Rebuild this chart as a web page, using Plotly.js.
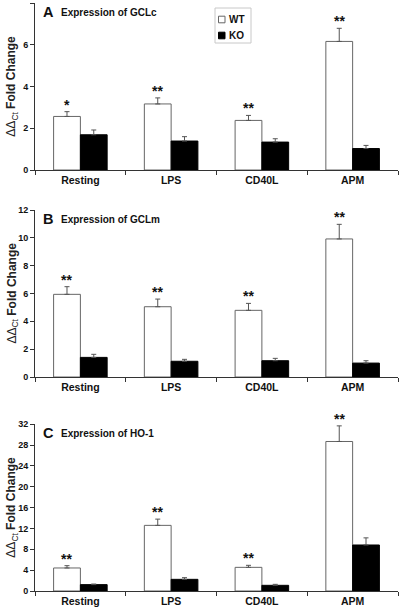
<!DOCTYPE html>
<html><head><meta charset="utf-8">
<script src="https://cdn.plot.ly/plotly-3.0.1.min.js"></script>
<style>html,body{margin:0;padding:0;background:#fff}</style>
</head><body><div id="chart" style="width:400px;height:613px"></div>
<script>
const categories = ['Resting', 'LPS', 'CD40L', 'APM'];
const gclcWT = [2.57, 3.17, 2.38, 6.17];
const gclcWTerr = [0.23, 0.29, 0.24, 0.63];
const gclcKO = [1.69, 1.39, 1.34, 1.03];
const gclcKOerr = [0.23, 0.21, 0.16, 0.15];
const gclmWT = [5.94, 5.05, 4.79, 9.92];
const gclmWTerr = [0.55, 0.55, 0.50, 1.05];
const gclmKO = [1.41, 1.13, 1.17, 1.00];
const gclmKOerr = [0.22, 0.14, 0.17, 0.17];
const ho1WT = [4.42, 12.6, 4.54, 28.7];
const ho1WTerr = [0.44, 1.2, 0.39, 3.0];
const ho1KO = [1.22, 2.24, 1.09, 8.83];
const ho1KOerr = [0.12, 0.32, 0.19, 1.37];
const sigA = ['*', '**', '**', '**'];
const sigB = ['**', '**', '**', '**'];
const sigC = ['**', '**', '**', '**'];
const seriesNames = ['WT', 'KO'];
const panelTitles = ['Expression of GCLc', 'Expression of GCLm', 'Expression of HO-1'];
const panelLetters = ['A', 'B', 'C'];
const yRanges = [[0, 8], [0, 12], [0, 32]];
const yDticks = [2, 2, 4];

const FONT = 'Liberation Sans, Arial, sans-serif';
const W = 400, H = 613;
const pX = px => px / W;
const pY = px => 1 - px / H;
const panelPx = [[3.3, 170], [210, 377], [424.3, 591]];

const sets = [
  {wt: gclcWT, wte: gclcWTerr, ko: gclcKO, koe: gclcKOerr, sig: sigA},
  {wt: gclmWT, wte: gclmWTerr, ko: gclmKO, koe: gclmKOerr, sig: sigB},
  {wt: ho1WT, wte: ho1WTerr, ko: ho1KO, koe: ho1KOerr, sig: sigC}
];

const traces = [];
const annotations = [];
const shapes = [];
const layout = {
  width: W, height: H,
  margin: {l: 0, r: 0, t: 0, b: 0},
  paper_bgcolor: '#fff', plot_bgcolor: '#fff',
  barmode: 'group', bargap: 0.41, bargroupgap: 0,
  font: {family: FONT, color: '#111'},
  showlegend: false,
  annotations: annotations,
  shapes: shapes
};

const wtStyle = {color: '#fff', line: {color: '#666', width: 1}};
const koStyle = {color: '#000', line: {color: '#000', width: 1}};

sets.forEach((s, i) => {
  const xa = i === 0 ? 'x' : 'x' + (i + 1);
  const ya = i === 0 ? 'y' : 'y' + (i + 1);
  traces.push({
    type: 'bar', name: seriesNames[0], x: categories, y: s.wt, xaxis: xa, yaxis: ya,
    marker: wtStyle,
    error_y: {type: 'data', symmetric: false, array: s.wte, arrayminus: s.wt.map(() => 0),
      color: '#555', thickness: 1, width: 2.5},
    hoverinfo: 'skip'
  });
  traces.push({
    type: 'bar', name: seriesNames[1], x: categories, y: s.ko, xaxis: xa, yaxis: ya,
    marker: koStyle,
    error_y: {type: 'data', symmetric: false, array: s.koe, arrayminus: s.ko.map(() => 0),
      color: '#555', thickness: 1, width: 2.5},
    hoverinfo: 'skip'
  });
  const [top, bot] = panelPx[i];
  const xk = i === 0 ? 'xaxis' : 'xaxis' + (i + 1);
  const yk = i === 0 ? 'yaxis' : 'yaxis' + (i + 1);
  layout[xk] = {
    domain: [pX(35), pX(398)], anchor: ya, type: 'category',
    range: [-0.5, 3.5], tickson: 'boundaries', ticks: 'outside', ticklen: 4,
    tickcolor: '#333', showline: true, linecolor: '#333', linewidth: 1,
    showgrid: false, zeroline: false, fixedrange: true,
    tickfont: {family: FONT, size: 10.5, weight: 'bold', color: '#111'}
  };
  layout[yk] = {
    domain: [pY(bot), pY(top)], anchor: xa, range: yRanges[i], dtick: yDticks[i],
    ticks: 'outside', ticklen: 4, tickcolor: '#333', showline: true, linecolor: '#333',
    linewidth: 1, showgrid: false, zeroline: false, fixedrange: true,
    tickfont: {family: FONT, size: 9, weight: 'bold', color: '#111'}
  };
  s.sig.forEach((txt, j) => {
    annotations.push({
      xref: xa, yref: ya, x: categories[j], y: s.wt[j] + s.wte[j],
      xanchor: 'center', yanchor: 'bottom', xshift: -13.6, yshift: -3,
      text: txt, showarrow: false,
      font: {family: FONT, size: 14, weight: 'bold', color: '#111'}
    });
  });
  const cy = top + 9;
  annotations.push({
    xref: 'paper', yref: 'paper', x: pX(40.5), y: pY(cy), xanchor: 'left', yanchor: 'middle',
    text: panelLetters[i], showarrow: false,
    font: {family: FONT, size: 14.5, weight: 'bold', color: '#111'}
  });
  annotations.push({
    xref: 'paper', yref: 'paper', x: pX(59), y: pY(cy), xanchor: 'left', yanchor: 'middle',
    text: panelTitles[i], showarrow: false,
    font: {family: FONT, size: 10, weight: 'bold', color: '#111'}
  });
  annotations.push({
    xref: 'paper', yref: 'paper', x: pX(12), y: pY((top + bot) / 2), xanchor: 'center', yanchor: 'middle',
    textangle: -90, text: 'ΔΔ<sub>Ct</sub> <b>Fold Change</b>', showarrow: false,
    font: {family: FONT, size: 12, color: '#222'}
  });
});

// legend (box, swatches, labels) in panel A
shapes.push({type: 'rect', xref: 'paper', yref: 'paper', x0: pX(215), x1: pX(251), y0: pY(43), y1: pY(8),
  line: {color: '#c8c8c8', width: 1}, fillcolor: 'rgba(0,0,0,0)'});
[[wtStyle, 19.5], [koStyle, 35.5]].forEach(([st, cy], k) => {
  shapes.push({type: 'rect', xref: 'paper', yref: 'paper', x0: pX(218.5), x1: pX(225), y0: pY(cy + 3.3), y1: pY(cy - 3.3),
    line: {color: st.line.color, width: 1}, fillcolor: st.color});
  annotations.push({xref: 'paper', yref: 'paper', x: pX(227), y: pY(cy), xanchor: 'left', yanchor: 'middle',
    text: seriesNames[k], showarrow: false, font: {family: FONT, size: 10, weight: 'bold', color: '#111'}});
});

Plotly.newPlot('chart', traces, layout, {displayModeBar: false, staticPlot: true});
</script>
</body></html>
